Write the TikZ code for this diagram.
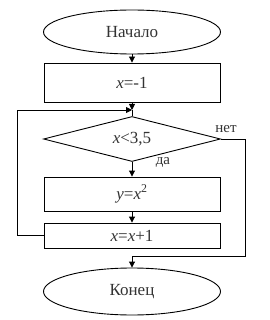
\documentclass[tikz,border=0pt]{standalone}
\usepackage{fontspec}
\setmainfont{Liberation Serif}
\usetikzlibrary{shapes.geometric,arrows.meta}
\begin{document}
\begin{tikzpicture}[x=1pt,y=-1pt,
  every node/.style={font=\fontsize{17}{19}\selectfont, inner sep=0pt, text=black!80},
  term/.style={ellipse, draw=black, minimum width=177pt},
  blk/.style={rectangle, draw=black, minimum width=176pt},
  cond/.style={diamond, draw=black, minimum width=177pt, minimum height=45pt},
  lbl/.style={font=\fontsize{15}{17}\selectfont},
  arr/.style={-{Triangle[length=6pt,width=6pt]}},
  line width=0.9pt]
\useasboundingbox (0,0) rectangle (269,320);
\node[term, minimum height=44pt] (start) at (132,32) {Начало};
\node[blk, minimum height=39pt] (r1) at (132,82.5) {\textit{x}=-1};
\node[cond, aspect=3.9] (d) at (132,139) {\textit{x}<3,5};
\node[blk, minimum height=34pt] (r2) at (132,194) {\textit{y}=\textit{x}\textsuperscript{2}};
\node[blk, minimum height=25pt] (r3) at (132,235.5) {\textit{x}=\textit{x}+1};
\node[term, minimum height=47pt] (end) at (132,291.5) {Конец};
\coordinate (j) at (132,110);
\coordinate (lc) at (17,110);
\coordinate (rc) at (245,256);
\node[lbl] (no) at (226,129) {нет};
\node[lbl] (yes) at (163,162) {да};
\draw[arr] (start) -- (r1);
\draw[arr] (r1.south) -- (j);
\draw (j) -- (d.north);
\draw[arr] (r3.west) -- (r3.west -| lc) -- (lc) -- (j);
\draw[arr] (d.south) -- (r2.north);
\draw[arr] (r2.south) -- (r3.north);
\draw[arr] (d.east) -| (rc) -| (end.north);
\end{tikzpicture}
\end{document}
